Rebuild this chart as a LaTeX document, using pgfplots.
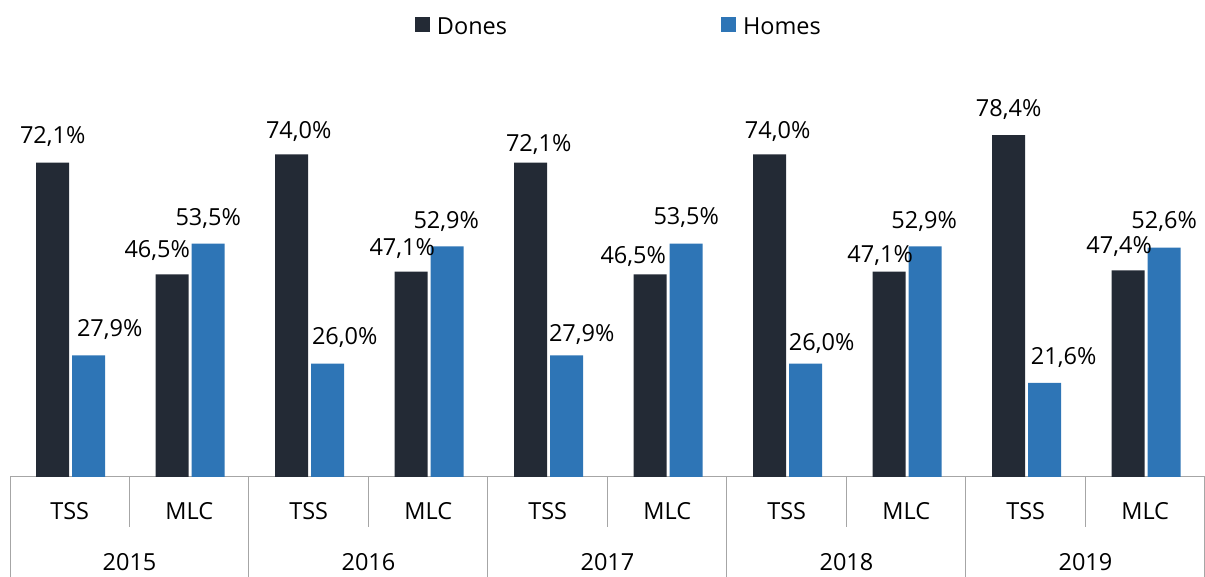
\documentclass[border=0pt]{standalone}
\usepackage{fontspec}
\setmainfont{Open Sans}
\usepackage{pgfplots}
\usepackage{pgfplotstable}
\pgfplotsset{compat=1.18}
\definecolor{dones}{HTML}{232A35}
\definecolor{homes}{HTML}{2E75B6}
\definecolor{axgray}{HTML}{A6A6A6}

\pgfplotstableread{
x y dx dy
0 72.1 0 19
2 74.0 7 16
4 72.1 8 11
6 74.0 8 16
8 78.4 0 19
}\donesTSS
\pgfplotstableread{
x y dx dy
1 46.5 -15 17
3 47.1 -9 16
5 46.5 -17 11
7 47.1 -9 9
9 47.4 -9 17
}\donesMLC
\pgfplotstableread{
x y dx dy
0 27.9 21 19
2 26.0 17 19
4 27.9 15 14
6 26.0 16 13
8 21.6 19 18
}\homesTSS
\pgfplotstableread{
x y dx dy
1 53.5 0 18
3 52.9 -1 18
5 53.5 0 19
7 52.9 -1 18
9 52.6 0 19
}\homesMLC

\begin{document}
\fontsize{23.5}{28}\selectfont
\begin{tikzpicture}
\begin{axis}[
  at={(0pt,0pt)}, anchor=south west,
  scale only axis, width=1195pt, height=436pt,
  xmin=-0.5, xmax=9.5, ymin=0, ymax=100,
  ybar, bar width=33pt,
  axis y line=none,
  axis x line*=bottom,
  x axis line style={-, draw=axgray, line width=1pt},
  tick align=outside,
  tick style={draw=axgray, line width=1pt},
  xtick={0,...,9},
  xticklabels={TSS,MLC,TSS,MLC,TSS,MLC,TSS,MLC,TSS,MLC},
  major tick length=0pt,
  minor xtick={-0.5,1.5,3.5,5.5,7.5,9.5},
  minor tick length=100pt,
  extra x ticks={0.5,2.5,4.5,6.5,8.5},
  extra x tick labels={2015,2016,2017,2018,2019},
  extra x tick style={major tick length=50pt, xticklabel style={yshift=-1pt}},
  xticklabel style={anchor=base, yshift=-43pt, inner sep=0pt, text=black},
  /pgf/number format/.cd, fixed, fixed zerofill, precision=1, use comma, assume math mode=true,
  /pgfplots/.cd,
  nodes near coords={\pgfmathprintnumber{\pgfplotspointmeta}\%},
  nodes near coords style={anchor=base, inner sep=0pt, text=black, xshift=\dx pt, yshift=\dy pt},
  visualization depends on={\thisrow{dx} \as \dx},
  visualization depends on={\thisrow{dy} \as \dy},
  legend image code/.code={\fill[#1, draw=none] (0pt,-4pt) rectangle (15pt,11pt);},
  legend columns=2,
  legend style={at={(0.3389,1.031)}, anchor=west, draw=none, fill=none, inner sep=0pt, outer sep=0pt,
    nodes={inner sep=0pt},
    /tikz/every odd column/.append style={column sep=7pt},
    /tikz/every even column/.append style={column sep=214pt}},
]
\addplot[fill=dones, draw=none, bar shift=-17pt] table[x=x,y=y] {\donesTSS};
\addlegendentry{Dones}
\addplot[fill=homes, draw=none, bar shift=19pt] table[x=x,y=y] {\homesTSS};
\addlegendentry{Homes}
\addplot[fill=dones, draw=none, bar shift=-17pt, forget plot] table[x=x,y=y] {\donesMLC};
\addplot[fill=homes, draw=none, bar shift=19pt, forget plot] table[x=x,y=y] {\homesMLC};
\end{axis}
\pgfresetboundingbox
\path (-10pt,-100pt) rectangle (1195pt,477pt);
\end{tikzpicture}
\end{document}
